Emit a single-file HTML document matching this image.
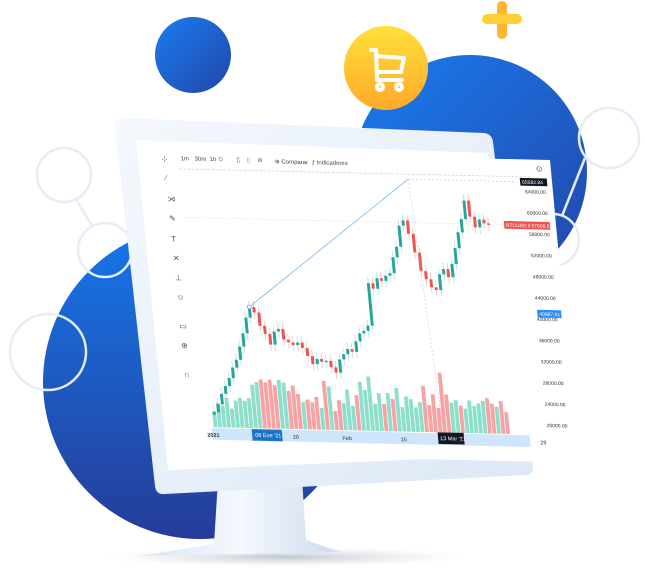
<!DOCTYPE html>
<html><head><meta charset="utf-8"><style>
html,body{margin:0;padding:0;background:#fff;}
svg{display:block;font-family:"Liberation Sans",sans-serif;}
</style></head><body>
<svg id="root" width="645" height="573" viewBox="0 0 645 573">
<defs>
<linearGradient id="blueg" x1="0" y1="0" x2="0" y2="1"><stop offset="0" stop-color="#1677ea"/><stop offset="1" stop-color="#253c98"/></linearGradient>
<linearGradient id="blueg2" x1="0" y1="0" x2="1" y2="1"><stop offset="0" stop-color="#1a7cf0"/><stop offset="1" stop-color="#2346a8"/></linearGradient>
<linearGradient id="yel" x1="0" y1="0" x2="0" y2="1"><stop offset="0" stop-color="#ffe03a"/><stop offset="1" stop-color="#ffa92a"/></linearGradient>
<linearGradient id="frame" x1="0" y1="0" x2="1" y2="1"><stop offset="0" stop-color="#f4f8fd"/><stop offset="1" stop-color="#dde8f6"/></linearGradient>
<linearGradient id="stand" x1="0" y1="0" x2="1" y2="0"><stop offset="0" stop-color="#d8e4f3"/><stop offset="0.5" stop-color="#f4f8fd"/><stop offset="1" stop-color="#cfdcee"/></linearGradient>
<radialGradient id="shadow"><stop offset="0" stop-color="#9aa3b0" stop-opacity="0.6"/><stop offset="1" stop-color="#c8ced8" stop-opacity="0"/></radialGradient>
</defs>

<circle cx="200" cy="382" r="157" fill="url(#blueg)"/>
<circle cx="470" cy="172" r="117" fill="url(#blueg2)"/>
<circle cx="193" cy="55" r="38" fill="url(#blueg2)"/>
<g stroke="#e6edf7" stroke-width="2.5" fill="none">
<circle cx="64" cy="175" r="27"/><circle cx="105" cy="250" r="27"/><circle cx="48" cy="352" r="38"/>
<circle cx="609" cy="138" r="30"/><circle cx="553" cy="240" r="26"/>
<line x1="76" y1="199" x2="92" y2="226"/><line x1="585" y1="158" x2="562" y2="216"/>
</g>
<circle cx="386" cy="68" r="42" fill="url(#yel)"/>
<g stroke="#fff" stroke-width="4" fill="none" stroke-linecap="round" stroke-linejoin="round">
<path d="M371 50 L376 50 L377 80 L402 80 M376 56 L404 58 L401 72 L377 72"/><circle cx="380" cy="87" r="3"/><circle cx="399" cy="87" r="3"/>
</g>
<g><rect x="497" y="1" width="10" height="38" rx="5" fill="#ffb52e"/><rect x="482" y="14" width="40" height="10" rx="5" fill="#ffcf35"/></g>

<ellipse cx="285" cy="557" rx="180" ry="10" fill="url(#shadow)"/>
<path d="M218 480 L302 478 L306 540 L340 552 L140 556 L214 544 Z" fill="url(#stand)"/>
<path d="M124 118 L484 133 Q492 134 493 142 L533 466 Q534 474 526 475 L165 494 Q156 495 155 486 L115 128 Q114 118 124 118 Z" fill="url(#frame)"/>
<path d="M136 140 L488 153 L525 455 L168 470 Z" fill="#fff"/>

<g id="panel" transform="matrix(1,0.023,0.09,0.97,158,151)">
<rect x="0" y="0" width="392" height="312" fill="#fff"/>
<g font-size="6" fill="#444">
<text x="3" y="10">-¦-</text>
<text x="22" y="9">1m</text>
<text x="36" y="9">30m</text>
<text x="51" y="9">1h</text>
<text x="60" y="9" fill="#2a8cf0">D</text>
<text x="78" y="9">¦¦</text>
<text x="88" y="9" fill="#2a8cf0">▯</text>
<text x="99" y="9">ıll</text>
<text x="116" y="10">⊕ Comparar</text>
<text x="153" y="10">ƒ Indicadores</text>
<text x="377" y="12" font-size="8">⊙</text>
</g>
<g font-size="8" fill="#555">
<text x="5" y="30" fill="#2a8cf0">⁄</text>
<text x="5" y="52">⋊</text>
<text x="5" y="72">✎</text>
<text x="5" y="93">T</text>
<text x="5" y="113">✕</text>
<text x="5" y="133">⊥</text>
<text x="5" y="153">☺</text>
<text x="5" y="183">▭</text>
<text x="5" y="203">⊕</text>
<text x="5" y="233">∩</text>
</g>
<g id="plot"></g>
</g>
</svg>
<script>
const closes = [21000,22500,24500,26000,27500,29500,31000,33500,36000,39000,41000,40000,37500,36000,34000,36500,37000,35000,34500,34000,34500,33500,32000,30500,31500,31000,31200,30000,29000,31500,32500,33500,33000,35000,36500,37000,38000,46000,45000,47000,46500,47500,48000,51000,53000,57000,58000,55500,52000,48500,47000,45500,45000,48000,49000,47500,50000,53000,56000,58500,62000,59000,57000,58500,57800,57600];
const volumes = [6,9,8,11,7,10,11,10,11,16,17,18,17,18,16,18,17,14,16,13,10,11,10,12,8,18,16,7,11,10,15,9,13,18,15,20,10,14,10,14,12,16,9,13,12,9,11,17,10,14,9,22,14,11,12,10,9,12,10,11,12,13,11,10,12,8];
const priceTicks = [64000,60000,56000,52000,48000,44000,40000,36000,32000,28000,24000,20000];
const dateTicks = ["2021","20","Feb","15","Mar","29"];
const dateTickIdx = [-2,17,28,41,53,72];
const NS="http://www.w3.org/2000/svg";
const plot=document.getElementById('plot');
const x0=32, step=4.5;
function xs(i){return x0+i*step;}
function ys(p){return 33+(64000-p)*241/44000;}
function vy(v){return 284-v*2.8;}
function mk(tag,attrs){const e=document.createElementNS(NS,tag);for(const k in attrs)e.setAttribute(k,attrs[k]);plot.appendChild(e);return e;}
let g=mk('line',{x1:20,y1:18,x2:370,y2:18,stroke:'#bbb','stroke-dasharray':'2,2','stroke-width':0.6});


let cp=mk('line',{x1:20,y1:ys(closes[closes.length-1]),x2:350,y2:ys(closes[closes.length-1]),stroke:'#f6b6b6','stroke-dasharray':'1,2','stroke-width':0.6});


volumes.forEach((v,i)=>{
  const up=i===0?true:closes[i]>=closes[i-1];
  const r=mk('rect',{x:xs(i)-1.9,y:vy(v),width:3.8,height:284-vy(v),fill:up?'#8ddfcc':'#f7a3a3'});
  
  
});
closes.forEach((c,i)=>{
  const o=i===0?20500:closes[i-1];
  const up=c>=o;
  const hi=Math.max(o,c)+1200, lo=Math.min(o,c)-1200;
  const col=up?'#26a69a':'#ef5350';
  const w=mk('line',{x1:xs(i),y1:ys(hi),x2:xs(i),y2:ys(lo),stroke:up?'#9fdcd3':'#f6b0ae','stroke-width':0.6});
  
  
  const top=ys(Math.max(o,c)), h=Math.max(1.5,Math.abs(ys(o)-ys(c)));
  const b=mk('rect',{x:xs(i)-1.5,y:top,width:3,height:h,fill:col});
  
  
});
const tStartIdx=10, tStartP=41000, tEndIdx=48, tEndP=65800;
let tl=mk('line',{x1:xs(tStartIdx),y1:ys(tStartP),x2:xs(tEndIdx),y2:ys(tEndP),stroke:'#7db9f2','stroke-width':0.8});


let tc=mk('circle',{cx:xs(tStartIdx),cy:ys(tStartP),r:2,fill:'#fff',stroke:'#5aa6f0','stroke-width':0.8});


let tv=mk('line',{x1:xs(tEndIdx),y1:ys(tEndP),x2:xs(tEndIdx)+12,y2:284,stroke:'#bbb','stroke-dasharray':'2,2','stroke-width':0.5});


let th=mk('line',{x1:xs(tEndIdx),y1:ys(tEndP),x2:355,y2:ys(tEndP),stroke:'#bbb','stroke-dasharray':'2,2','stroke-width':0.5});


priceTicks.forEach(p=>{
  const t=mk('text',{x:364,y:ys(p)+2,'font-size':5,fill:'#333'});
  t.textContent=p.toFixed(2);
  
  
});
function label(txt,p,x,w,bg,name){
  const r=mk('rect',{x:x,y:ys(p)-4,width:w,height:8,fill:bg});
  
  
  const t=mk('text',{x:x+2,y:ys(p)+2,'font-size':5,fill:'#fff'});
  t.textContent=txt;
  
  
}
label('65582.84',tEndP,360,27,'#131722','crosshair-price-label');
label('BTCUSD ‖ 57609.51',closes[closes.length-1],340,46,'#ef5350','current-price-label');
label('40987.01',40987,365,24,'#2a8cf0','trend-start-price-label');
let ds=mk('rect',{x:28,y:285,width:318,height:12,fill:'#cde6fb'});


let d1=mk('rect',{x:xs(8),y:285,width:30,height:12,fill:'#1a73c9'});


let d1t=mk('text',{x:xs(8)+3,y:293,'font-size':5.5,fill:'#fff'});d1t.textContent='08 Ene \'21';


let d2=mk('rect',{x:xs(tEndIdx)+6,y:284,width:26,height:12,fill:'#131722'});


let d2t=mk('text',{x:xs(tEndIdx)+8,y:292,'font-size':5.5,fill:'#fff'});d2t.textContent='13 Mar \'21';


dateTicks.forEach((d,k)=>{
  const t=mk('text',{x:xs(dateTickIdx[k]),y:294,'font-size':5.5,fill:'#333','font-weight':k===0?'bold':'normal'});
  t.textContent=d;
  
  
});
</script>
</body></html>
